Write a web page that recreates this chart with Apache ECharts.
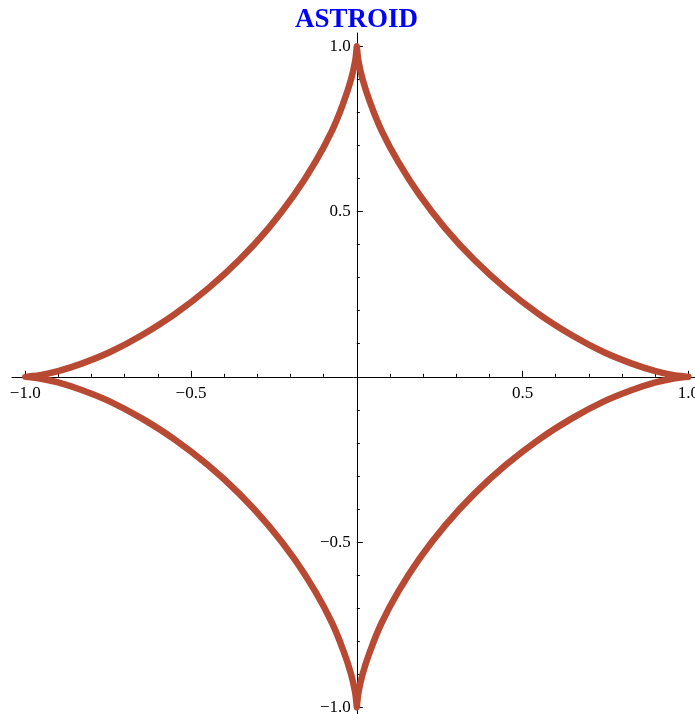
<!DOCTYPE html>
<html>
<head>
<meta charset="utf-8">
<script src="https://cdn.jsdelivr.net/npm/echarts@6/dist/echarts.min.js"></script>
<style>
  html, body { margin: 0; padding: 0; background: #fff; }
  #chart { width: 695px; height: 714px; }
</style>
</head>
<body>
<div id="chart"></div>
<script>
// points, going round counter-clockwise from (1, 0)
const curveX = [
  1, 0.989, 0.955, 0.901, 0.830, 0.744, 0.650, 0.550, 0.450, 0.354, 0.266, 0.189, 0.125, 0.075, 0.040, 0.017, 0.005, 0.001, 0,
  -0.001, -0.005, -0.017, -0.040, -0.075, -0.125, -0.189, -0.266, -0.354, -0.450, -0.550, -0.650, -0.744, -0.830, -0.901, -0.955, -0.989, -1,
  -0.989, -0.955, -0.901, -0.830, -0.744, -0.650, -0.550, -0.450, -0.354, -0.266, -0.189, -0.125, -0.075, -0.040, -0.017, -0.005, -0.001, 0,
  0.001, 0.005, 0.017, 0.040, 0.075, 0.125, 0.189, 0.266, 0.354, 0.450, 0.550, 0.650, 0.744, 0.830, 0.901, 0.955, 0.989, 1
];
const curveY = [
  0, 0.001, 0.005, 0.017, 0.040, 0.075, 0.125, 0.189, 0.266, 0.354, 0.450, 0.550, 0.650, 0.744, 0.830, 0.901, 0.955, 0.989, 1,
  0.989, 0.955, 0.901, 0.830, 0.744, 0.650, 0.550, 0.450, 0.354, 0.266, 0.189, 0.125, 0.075, 0.040, 0.017, 0.005, 0.001, 0,
  -0.001, -0.005, -0.017, -0.040, -0.075, -0.125, -0.189, -0.266, -0.354, -0.450, -0.550, -0.650, -0.744, -0.830, -0.901, -0.955, -0.989, -1,
  -0.989, -0.955, -0.901, -0.830, -0.744, -0.650, -0.550, -0.450, -0.354, -0.266, -0.189, -0.125, -0.075, -0.040, -0.017, -0.005, -0.001, 0
];
const labelTicks = [-1, -0.5, 0.5, 1];
const majorTicks = [-1, -0.5, 0, 0.5, 1];
const minorTicks = [-0.9, -0.8, -0.7, -0.6, -0.4, -0.3, -0.2, -0.1, 0.1, 0.2, 0.3, 0.4, 0.6, 0.7, 0.8, 0.9];

const xMin = -1.04, xMax = 1.02, yMin = -1.02, yMax = 1.04;
const gLeft = 12, gTop = 33, gW = 683, gH = 681;
// the axes cross at the origin: shift them in from the grid edge
const xOffset = -(gH * yMin / (yMin - yMax));
const yOffset = -(gW * xMin / (xMin - xMax));

const chart = echarts.init(document.getElementById('chart'));

const fmt = v => (v < 0 ? '\u2212' : '') + Math.abs(v).toFixed(1);
const labelFont = { color: '#000', fontFamily: 'Liberation Serif', fontSize: 17 };

function mainAxis(dim, min, max) {
  return {
    type: 'value', min: min, max: max,
    position: dim === 'x' ? 'bottom' : 'left',
    offset: dim === 'x' ? xOffset : yOffset,
    splitLine: { show: false },
    axisLine: { onZero: false, lineStyle: { color: '#000', width: 1 } },
    axisTick: { inside: true, length: 6, customValues: majorTicks, lineStyle: { color: '#000' } },
    axisLabel: Object.assign({ customValues: labelTicks, formatter: fmt, margin: dim === 'x' ? 8 : 6 }, labelFont)
  };
}
function minorAxis(dim, min, max) {
  return {
    type: 'value', min: min, max: max,
    position: dim === 'x' ? 'bottom' : 'left',
    offset: dim === 'x' ? xOffset : yOffset,
    splitLine: { show: false },
    axisLine: { show: false, onZero: false },
    axisTick: { inside: true, length: 3, customValues: minorTicks, lineStyle: { color: '#000' } },
    axisLabel: { show: false }
  };
}

chart.setOption({
  animation: false,
  title: {
    text: 'ASTROID',
    left: 290, top: 2,
    textStyle: { color: '#0000ff', fontFamily: 'Liberation Serif', fontWeight: 'bold', fontSize: 27 }
  },
  grid: { left: gLeft, top: gTop, width: gW, height: gH, outerBoundsMode: 'none', containLabel: false },
  xAxis: [mainAxis('x', xMin, xMax), minorAxis('x', xMin, xMax)],
  yAxis: [mainAxis('y', yMin, yMax), minorAxis('y', yMin, yMax)],
  series: [{
    type: 'line',
    data: curveX.map((x, i) => [x, curveY[i]]),
    showSymbol: false,
    smooth: 0.4,
    lineStyle: { color: '#b84a33', width: 6.5, join: 'round', cap: 'round' },
    z: 1
  }]
});
</script>
</body>
</html>
